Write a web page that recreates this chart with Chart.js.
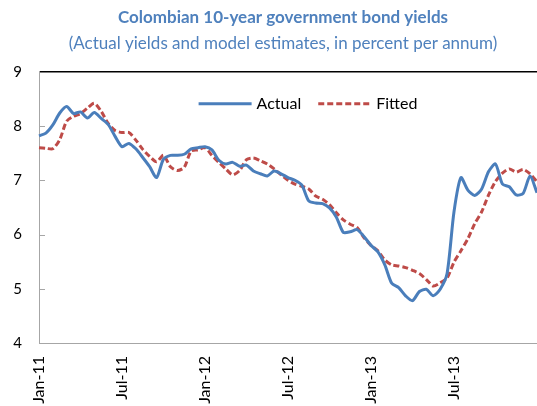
<!DOCTYPE html>
<html>
<head>
<meta charset="utf-8">
<script src="https://cdn.jsdelivr.net/npm/chart.js@4.4.0/dist/chart.umd.min.js"></script>
<style>
body { margin: 0; background: #fff; }
#wrap { width: 537px; height: 406px; }
</style>
</head>
<body>
<div id="wrap"><canvas id="myChart"></canvas></div>
<script>
// half-month observations, Jan 2011 .. Jan 2014
const monthNames = ['Jan','Feb','Mar','Apr','May','Jun','Jul','Aug','Sep','Oct','Nov','Dec'];
const tickLabels = ['Jan-11','Jul-11','Jan-12','Jul-12','Jan-13','Jul-13'];

const actual = [
	7.82, 7.87, 8.02, 8.24, 8.36, 8.23, 8.26, 8.15, 8.25, 8.14,
	8.03, 7.81, 7.62, 7.68, 7.58, 7.42, 7.25, 7.05, 7.39, 7.46,
	7.46, 7.48, 7.58, 7.60, 7.62, 7.56, 7.37, 7.30, 7.33, 7.26,
	7.28, 7.17, 7.12, 7.08, 7.17, 7.12, 7.05, 7.00, 6.91, 6.62,
	6.58, 6.57, 6.49, 6.32, 6.04, 6.05, 6.09, 5.96, 5.80, 5.68,
	5.44, 5.10, 5.02, 4.87, 4.78, 4.95, 4.99, 4.87, 4.99, 5.28,
	6.42, 7.05, 6.82, 6.72, 6.84, 7.16, 7.30, 6.93, 6.88, 6.73,
	6.76, 7.08, 6.77
];
const fitted = [
	7.60, 7.59, 7.58, 7.75, 8.09, 8.18, 8.23, 8.33, 8.42, 8.27,
	8.05, 7.92, 7.88, 7.88, 7.74, 7.57, 7.44, 7.34, 7.46, 7.25,
	7.18, 7.24, 7.54, 7.56, 7.60, 7.46, 7.33, 7.21, 7.10, 7.18,
	7.38, 7.41, 7.36, 7.30, 7.21, 7.10, 7.00, 6.93, 6.89, 6.84,
	6.71, 6.65, 6.55, 6.40, 6.27, 6.19, 6.13, 5.94, 5.80, 5.70,
	5.53, 5.44, 5.42, 5.39, 5.34, 5.28, 5.17, 5.05, 5.11, 5.20,
	5.49, 5.70, 5.92, 6.20, 6.42, 6.73, 6.98, 7.13, 7.21, 7.15,
	7.20, 7.12, 6.97
];

const periods = [];
for (let i = 0; i < actual.length; i++) {
	const m = Math.floor(i / 2);
	periods.push(monthNames[m % 12] + '-' + (11 + Math.floor(m / 12)) + (i % 2 ? ' H2' : ' H1'));
}

const axisGrey = '#a6a6a6';
const font = 'Lato, "Open Sans", sans-serif';

// small tick marks pointing into the plot, like the original
const innerTicks = {
	id: 'innerTicks',
	beforeDatasetsDraw(chart) {
		const {ctx, chartArea, scales: {x, y}} = chart;
		ctx.save();
		ctx.strokeStyle = axisGrey;
		ctx.lineWidth = 1;
		ctx.beginPath();
		y.ticks.forEach(t => {
			if (t.value > 4 && t.value < 9) {
				const py = Math.round(y.getPixelForValue(t.value)) + 0.5;
				ctx.moveTo(chartArea.left, py);
				ctx.lineTo(chartArea.left + 6, py);
			}
		});
		x.ticks.forEach((t, i) => {
			if (i > 0 && i % 12 === 0 && tickLabels[i / 12]) {
				const px = Math.round(x.getPixelForTick(i)) + 0.5;
				ctx.moveTo(px, chartArea.bottom);
				ctx.lineTo(px, chartArea.bottom - 6);
			}
		});
		ctx.stroke();
		ctx.restore();
	}
};

// legend drawn inside the plot, near the top
const inPlotLegend = {
	id: 'inPlotLegend',
	afterDatasetsDraw(chart) {
		const {ctx, chartArea} = chart;
		const lineLen = 53, gap = 5, itemGap = 17;
		ctx.save();
		ctx.font = '16px ' + font;
		const items = chart.data.datasets.map(d => ({d, w: ctx.measureText(d.label).width}));
		const total = items.reduce((s, it) => s + lineLen + gap + it.w, 0) + itemGap * (items.length - 1);
		let x = (chartArea.left + chartArea.right) / 2 + 20 - total / 2;
		const y = chartArea.top + 32;
		items.forEach(({d, w}) => {
			ctx.strokeStyle = d.borderColor;
			ctx.lineWidth = d.borderWidth;
			ctx.setLineDash(d.borderDash || []);
			ctx.beginPath();
			ctx.moveTo(x, y);
			ctx.lineTo(x + lineLen, y);
			ctx.stroke();
			ctx.setLineDash([]);
			ctx.fillStyle = '#000';
			ctx.textBaseline = 'middle';
			ctx.textAlign = 'left';
			ctx.fillText(d.label, x + lineLen + gap, y);
			x += lineLen + gap + w + itemGap;
		});
		ctx.restore();
	}
};

// the titles sit over the plot rather than the whole canvas
const titleNudge = {
	id: 'titleNudge',
	afterLayout(chart) {
		chart.boxes.forEach(b => {
			if (b.options && typeof b.options.text === 'string') {
				b.left += 8;
				b.right += 8;
			}
		});
	}
};

const ctx = document.getElementById('myChart');
new Chart(ctx, {
	type: 'line',
	data: {
		labels: periods,
		datasets: [
			{
				label: 'Actual',
				data: actual,
				borderColor: '#4a7ebb',
				borderWidth: 3,
				pointRadius: 0,
				tension: 0.25
			},
			{
				label: 'Fitted',
				data: fitted,
				borderColor: '#be4b48',
				borderWidth: 3,
				borderDash: [6, 3],
				pointRadius: 0,
				tension: 0.25
			}
		]
	},
	options: {
		responsive: true,
		maintainAspectRatio: false,
		animation: false,
		layout: { padding: { left: 13, right: 0, top: 0, bottom: 0 } },
		plugins: {
			title: {
				display: true,
				text: 'Colombian 10-year government bond yields',
				color: '#4f81bd',
				font: { family: font, size: 17, weight: 'bold' },
				padding: { top: 7, bottom: 3 }
			},
			subtitle: {
				display: true,
				text: '(Actual yields and model estimates, in percent per annum)',
				color: '#4f81bd',
				font: { family: font, size: 17 },
				padding: { top: 3, bottom: 18 }
			},
			legend: { display: false },
			tooltip: { enabled: false }
		},
		scales: {
			x: {
				grid: { drawOnChartArea: false, drawTicks: false },
				border: { color: axisGrey },
				afterFit: s => { s.height = 63; },
				ticks: {
					autoSkip: false,
					minRotation: 90,
					maxRotation: 90,
					padding: 13,
					color: '#000',
					font: { family: font, size: 16 },
					callback: (v, i) => (i % 12 === 0 && tickLabels[i / 12]) ? tickLabels[i / 12] : null
				}
			},
			y: {
				min: 4,
				max: 9,
				afterFit: s => { s.width = 26; },
				grid: {
					drawTicks: false,
					color: c => c.tick.value === 9 ? '#000' : 'transparent',
					lineWidth: 1.5
				},
				border: { color: axisGrey },
				ticks: {
					stepSize: 1,
					padding: 17,
					color: '#000',
					font: { family: font, size: 15 }
				}
			}
		}
	},
	plugins: [innerTicks, inPlotLegend, titleNudge]
});
</script>
</body>
</html>
